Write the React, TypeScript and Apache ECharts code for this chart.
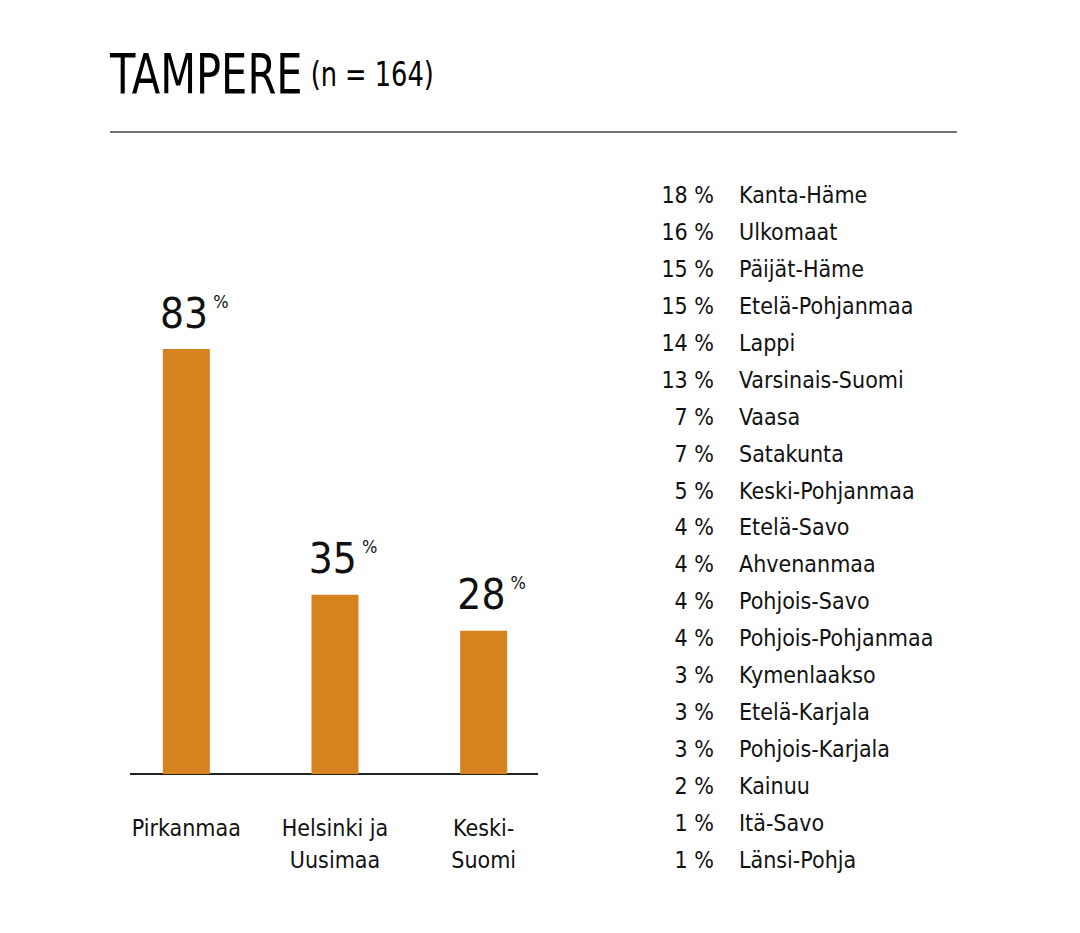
import React, { useEffect, useRef } from "react";
import * as echarts from "echarts";

const titleMain = "TAMPERE";
const titleSub = "(n = 164)";

const barCategories = ["Pirkanmaa", "Helsinki ja\nUusimaa", "Keski-\nSuomi"];
const barValues = [83, 35, 28];

const listNames = [
  "Kanta-Häme", "Ulkomaat", "Päijät-Häme", "Etelä-Pohjanmaa", "Lappi",
  "Varsinais-Suomi", "Vaasa", "Satakunta", "Keski-Pohjanmaa", "Etelä-Savo",
  "Ahvenanmaa", "Pohjois-Savo", "Pohjois-Pohjanmaa", "Kymenlaakso",
  "Etelä-Karjala", "Pohjois-Karjala", "Kainuu", "Itä-Savo", "Länsi-Pohja",
];
const listValues = [18, 16, 15, 15, 14, 13, 7, 7, 5, 4, 4, 4, 4, 3, 3, 3, 2, 1, 1];

const FONT = '"Liberation Sans Narrow", "DejaVu Sans Condensed", "Roboto Condensed", sans-serif';
const BAR_COLOR = "#D6821E";
const TEXT = "#111111";

export default function App() {
  const ref = useRef<HTMLDivElement>(null);
  useEffect(() => {
    if (!ref.current) return;
    const chart = echarts.init(ref.current, undefined, { renderer: "svg" });
    const rowTop = 195;
    const rowStep = 36.94;
    const listGraphics: any[] = [];
    listNames.forEach((name, i) => {
      listGraphics.push({
        type: "text",
        x: 714,
        y: rowTop + i * rowStep,
        style: {
          text: `${listValues[i]} %`,
          font: `400 23px ${FONT}`,
          fill: TEXT,
          align: "right",
          verticalAlign: "middle",
        },
      });
      listGraphics.push({
        type: "text",
        x: 739,
        y: rowTop + i * rowStep,
        style: {
          text: name,
          font: `400 23px ${FONT}`,
          fill: TEXT,
          align: "left",
          verticalAlign: "middle",
        },
      });
    });

    chart.setOption({
      animation: false,
      backgroundColor: "#ffffff",
      grid: { left: 112, width: 446, top: 262, height: 512 },
      xAxis: {
        type: "category",
        data: barCategories,
        axisLine: { show: false },
        axisTick: { show: false },
        axisLabel: {
          margin: 38,
          fontFamily: FONT,
          fontSize: 23,
          color: TEXT,
          lineHeight: 32,
          interval: 0,
        },
      },
      yAxis: {
        type: "value",
        min: 0,
        max: 100,
        show: false,
      },
      series: [
        {
          type: "bar",
          data: barValues,
          barWidth: 47,
          itemStyle: { color: BAR_COLOR },
          label: {
            show: true,
            position: "top",
            distance: 15,
            offset: [8, 0],
            formatter: (p: any) => `{a|${p.value}}{b| %}`,
            rich: {
              a: { fontFamily: FONT, fontSize: 42, color: TEXT },
              b: { fontFamily: FONT, fontSize: 18, color: TEXT, verticalAlign: "top", padding: [0, 0, 20, 0] },
            },
          },
        },
      ],
      graphic: [
        {
          type: "text",
          x: 110,
          y: 102,
          scaleX: 0.84,
          style: {
            text: `{m|${titleMain}}{s| ${titleSub}}`,
            rich: {
              m: { fontFamily: FONT, fontSize: 55, fill: "#000" },
              s: { fontFamily: FONT, fontSize: 34, fill: "#000" },
            },
            verticalAlign: "bottom",
          },
        },
        {
          type: "line",
          shape: { x1: 110, y1: 132, x2: 957, y2: 132 },
          style: { stroke: "#444", lineWidth: 1.5 },
        },
        {
          type: "line",
          shape: { x1: 130, y1: 774, x2: 538, y2: 774 },
          style: { stroke: "#222", lineWidth: 2 },
        },
        ...listGraphics,
      ],
    });
    return () => chart.dispose();
  }, []);
  return (
    <div
      ref={ref}
      style={{ position: "fixed", left: 0, top: 0, width: 1080, height: 933 }}
    />
  );
}
